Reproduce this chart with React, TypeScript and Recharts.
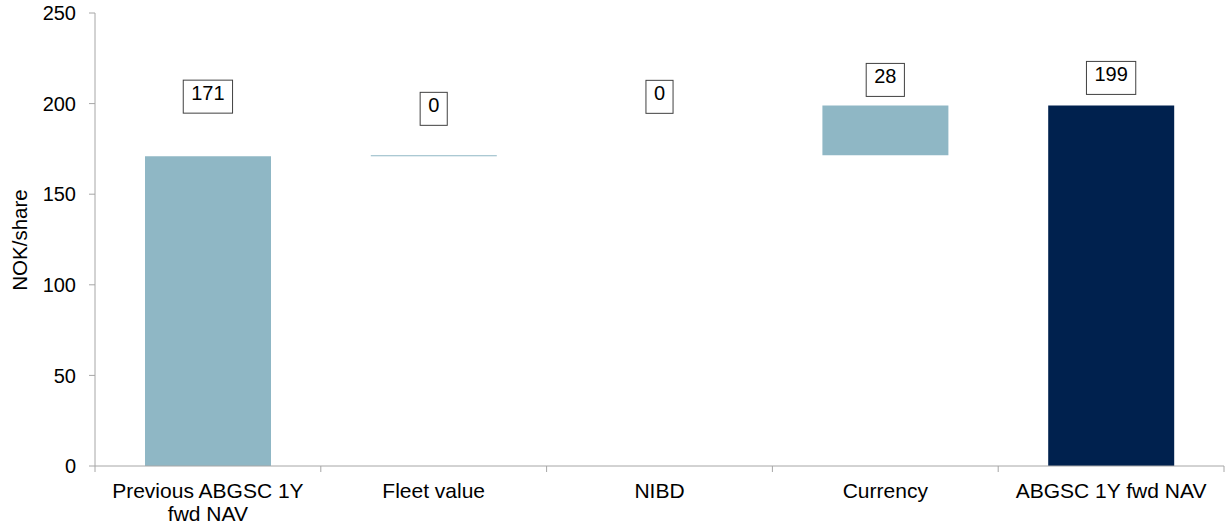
import React from 'react';
import { ComposedChart, Bar, Line, XAxis, YAxis, Cell, Label } from 'recharts';

// NAV bridge, NOK per share
const categories = ['Previous ABGSC 1Y fwd NAV', 'Fleet value', 'NIBD', 'Currency', 'ABGSC 1Y fwd NAV'];
const tickLines = [['Previous ABGSC 1Y', 'fwd NAV'], ['Fleet value'], ['NIBD'], ['Currency'], ['ABGSC 1Y fwd NAV']];
const stepValues = [171, 0.45, 0, 27.55, 199];
const isTotal = [true, false, false, false, true];
const yTicks = [0, 50, 100, 150, 200, 250];

const LIGHT = '#8FB7C5';
const DARK = '#00214E';
const AXIS = '#A6A6A6';
const FONT = '"Liberation Sans", Arial, Helvetica, sans-serif';

const WIDTH = 1229;
const HEIGHT = 527;
const MARGIN = { top: 13, right: 5, bottom: 6, left: 0 };
const Y_AXIS_W = 95;
const X_AXIS_H = 55;
const PLOT_W = WIDTH - MARGIN.left - MARGIN.right - Y_AXIS_W;
const BAND = PLOT_W / categories.length;

// gap between a value box and the top of its bar
const labelLift = [43, 30, 42, 9, 11];

// waterfall rows: totals start at zero, steps start at the running sum
let running = 0;
const rows = categories.map((name, i) => {
  const v = stepValues[i];
  let range: [number, number];
  if (isTotal[i]) {
    range = [0, v];
    running = v;
  } else {
    range = [running, running + v];
    running += v;
  }
  return { name, range, top: Math.max(range[0], range[1]), value: v };
});

// value boxes sit on an invisible line through the bar tops
const ValueBox = (props: any) => {
  const { cx, cy, index } = props;
  if (cx == null || cy == null) return null;
  const text = String(Math.round(stepValues[index]));
  const boxW = text.length * 11.1 + 16;
  const boxH = 33;
  const bottom = cy - labelLift[index];
  return (
    <g key={`box-${index}`}>
      <rect x={cx - boxW / 2} y={bottom - boxH} width={boxW} height={boxH} fill="#fff" stroke="#404040" strokeWidth={1} />
      <text x={cx} y={bottom - 13} textAnchor="middle" fontSize={20} fontFamily={FONT} fill="#000">
        {text}
      </text>
    </g>
  );
};

const CategoryTick = (props: any) => {
  const { x, y, index } = props;
  const lines = tickLines[index] || [];
  const isLast = index === categories.length - 1;
  return (
    <g>
      <line x1={x - BAND / 2} y1={y} x2={x - BAND / 2} y2={y + 6} stroke={AXIS} />
      {isLast && <line x1={x + BAND / 2} y1={y} x2={x + BAND / 2} y2={y + 6} stroke={AXIS} />}
      <text textAnchor="middle" fontSize={21} fontFamily={FONT} fill="#000">
        {lines.map((line: string, i: number) => (
          <tspan key={i} x={x} y={y + 32 + i * 23}>
            {line}
          </tspan>
        ))}
      </text>
    </g>
  );
};

export default function App() {
  return (
    <div style={{ position: 'absolute', left: 0, top: 0, background: '#fff' }}>
      <ComposedChart width={WIDTH} height={HEIGHT} data={rows} margin={MARGIN} barSize={126}>
        <XAxis
          dataKey="name"
          height={X_AXIS_H}
          axisLine={{ stroke: AXIS }}
          tickLine={false}
          tickSize={0}
          tickMargin={0}
          interval={0}
          tick={<CategoryTick />}
        />
        <YAxis
          width={Y_AXIS_W}
          domain={[0, 250]}
          ticks={yTicks}
          interval={0}
          axisLine={{ stroke: AXIS }}
          tickLine={{ stroke: AXIS }}
          tickSize={6}
          tickMargin={13}
          tick={{ fill: '#000', fontSize: 20, fontFamily: FONT }}
        >
          <Label
            content={() => (
              <text
                x={19}
                y={240}
                transform="rotate(-90 19 240)"
                textAnchor="middle"
                dominantBaseline="central"
                fontSize={20.5}
                fontFamily={FONT}
                fill="#000"
              >
                NOK/share
              </text>
            )}
          />
        </YAxis>
        <Bar dataKey="range" isAnimationActive={false}>
          {rows.map((r, i) => (
            <Cell key={r.name} fill={i === rows.length - 1 ? DARK : LIGHT} />
          ))}
        </Bar>
        <Line
          dataKey="top"
          stroke="none"
          dot={(p: any) => <ValueBox {...p} />}
          activeDot={false}
          legendType="none"
          isAnimationActive={false}
        />
      </ComposedChart>
    </div>
  );
}
